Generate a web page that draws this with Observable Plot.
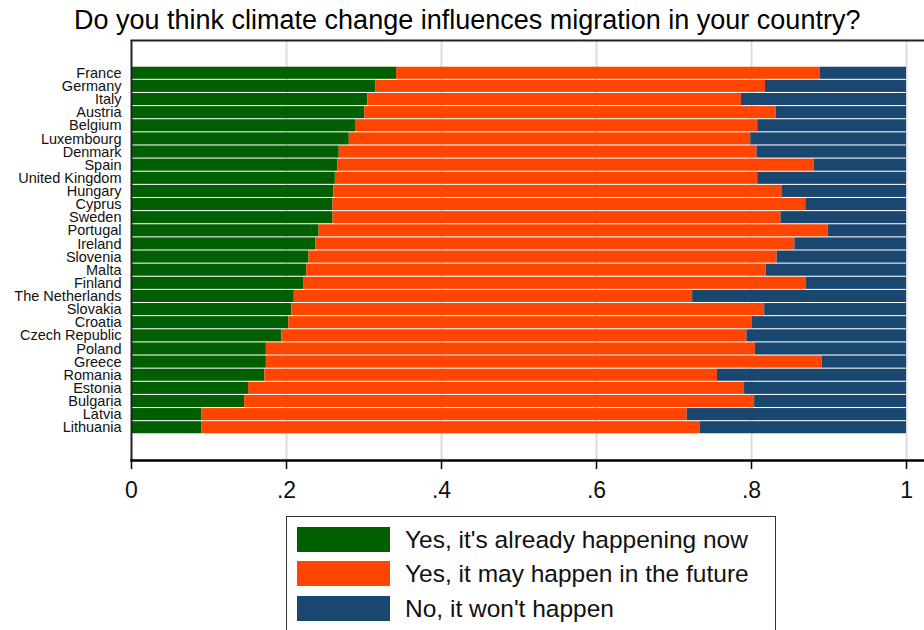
<!DOCTYPE html>
<html>
<head>
<meta charset="utf-8">
<script src="https://cdn.jsdelivr.net/npm/d3@7"></script>
<script src="https://cdn.jsdelivr.net/npm/@observablehq/plot@0.6"></script>
<style>
  html, body { margin: 0; padding: 0; background: #fff; }
  body { width: 924px; height: 630px; position: relative; overflow: hidden; font-family: "Liberation Sans", Arial, sans-serif; color: #000; }
  #title { position: absolute; left: 74px; top: 7px; font-size: 27px; line-height: 27px; white-space: nowrap; }
  #chart { position: absolute; left: 0; top: 39px; }
  #legend { position: absolute; left: 286px; top: 516px; width: 488px; height: 130px; border: 1.5px solid #333; background: #fff; }
  .item { position: absolute; left: 10px; height: 25px; }
  .sw { position: absolute; left: 0; top: 0; width: 93px; height: 25px; }
  .lab { position: absolute; left: 108px; top: -1px; font-size: 24.5px; line-height: 27px; white-space: nowrap; color: #111; }
</style>
</head>
<body>
<div id="title">Do you think climate change influences migration in your country?</div>
<div id="chart"></div>
<div id="legend"></div>
<script>
const countries = ["France","Germany","Italy","Austria","Belgium","Luxembourg","Denmark","Spain","United Kingdom","Hungary","Cyprus","Sweden","Portugal","Ireland","Slovenia","Malta","Finland","The Netherlands","Slovakia","Croatia","Czech Republic","Poland","Greece","Romania","Estonia","Bulgaria","Latvia","Lithuania"];
const responses = ["Yes, it's already happening now","Yes, it may happen in the future","No, it won't happen"];
const colors = ["#005f00","#ff4500","#1a476f"];
const yesNow    = [0.342,0.315,0.305,0.301,0.289,0.281,0.268,0.266,0.263,0.261,0.260,0.260,0.242,0.238,0.229,0.226,0.222,0.210,0.207,0.203,0.194,0.174,0.174,0.172,0.151,0.146,0.091,0.091];
const yesFuture = [0.547,0.503,0.482,0.531,0.519,0.518,0.539,0.615,0.545,0.579,0.610,0.578,0.657,0.618,0.604,0.593,0.649,0.514,0.610,0.598,0.600,0.631,0.717,0.584,0.640,0.658,0.626,0.643];
const noWont    = [0.111,0.182,0.213,0.168,0.192,0.201,0.193,0.119,0.192,0.160,0.130,0.162,0.101,0.144,0.167,0.181,0.129,0.276,0.183,0.199,0.206,0.195,0.109,0.244,0.209,0.196,0.283,0.266];
const xTicks = [0, 0.2, 0.4, 0.6, 0.8, 1];
const xTickLabels = ["0", ".2", ".4", ".6", ".8", "1"];

const series = [yesNow, yesFuture, noWont];
const data = [];
countries.forEach((c, i) => {
  responses.forEach((r, k) => data.push({country: c, response: r, value: series[k][i]}));
});

const chart = Plot.plot({
  width: 924,
  height: 470,
  marginLeft: 131,
  marginRight: 0,
  marginTop: 1,
  marginBottom: 49,
  style: {fontFamily: "Liberation Sans, Arial, sans-serif", color: "#111", background: "transparent"},
  x: {domain: [0, 1.0232], axis: null, label: null},
  y: {domain: countries, range: [27.2, 394.8], paddingInner: 0.08, paddingOuter: 0.04, round: false, axis: null, label: null},
  color: {domain: responses, range: colors},
  marks: [
    Plot.gridX(xTicks.slice(1), {stroke: "#dcdcdc", strokeOpacity: 1, strokeWidth: 2}),
    Plot.barX(data, Plot.stackX({x: "value", y: "country", fill: "response"})),
    Plot.frame({anchor: "top", stroke: "#222", strokeWidth: 2}),
    Plot.ruleX([0], {stroke: "#222", strokeWidth: 2}),
    Plot.frame({anchor: "bottom", stroke: "#000", strokeWidth: 2.5}),
    Plot.axisX(xTicks, {tickSize: 9, tickPadding: 12, fontSize: 23, stroke: "#000", strokeWidth: 1.5, label: null,
      tickFormat: d => xTickLabels[xTicks.indexOf(d)], fill: "#111"}),
    Plot.axisY(countries, {tickSize: 0, tickPadding: 10, fontSize: 14.5, fill: "#111", label: null})
  ]
});
document.getElementById("chart").appendChild(chart);

const legend = document.getElementById("legend");
responses.forEach((r, k) => {
  const item = document.createElement("div");
  item.className = "item";
  item.style.top = (9.5 + k * 34.8) + "px";
  item.innerHTML = `<div class="sw" style="background:${colors[k]}"></div><div class="lab">${r}</div>`;
  legend.appendChild(item);
});
</script>
</body>
</html>
